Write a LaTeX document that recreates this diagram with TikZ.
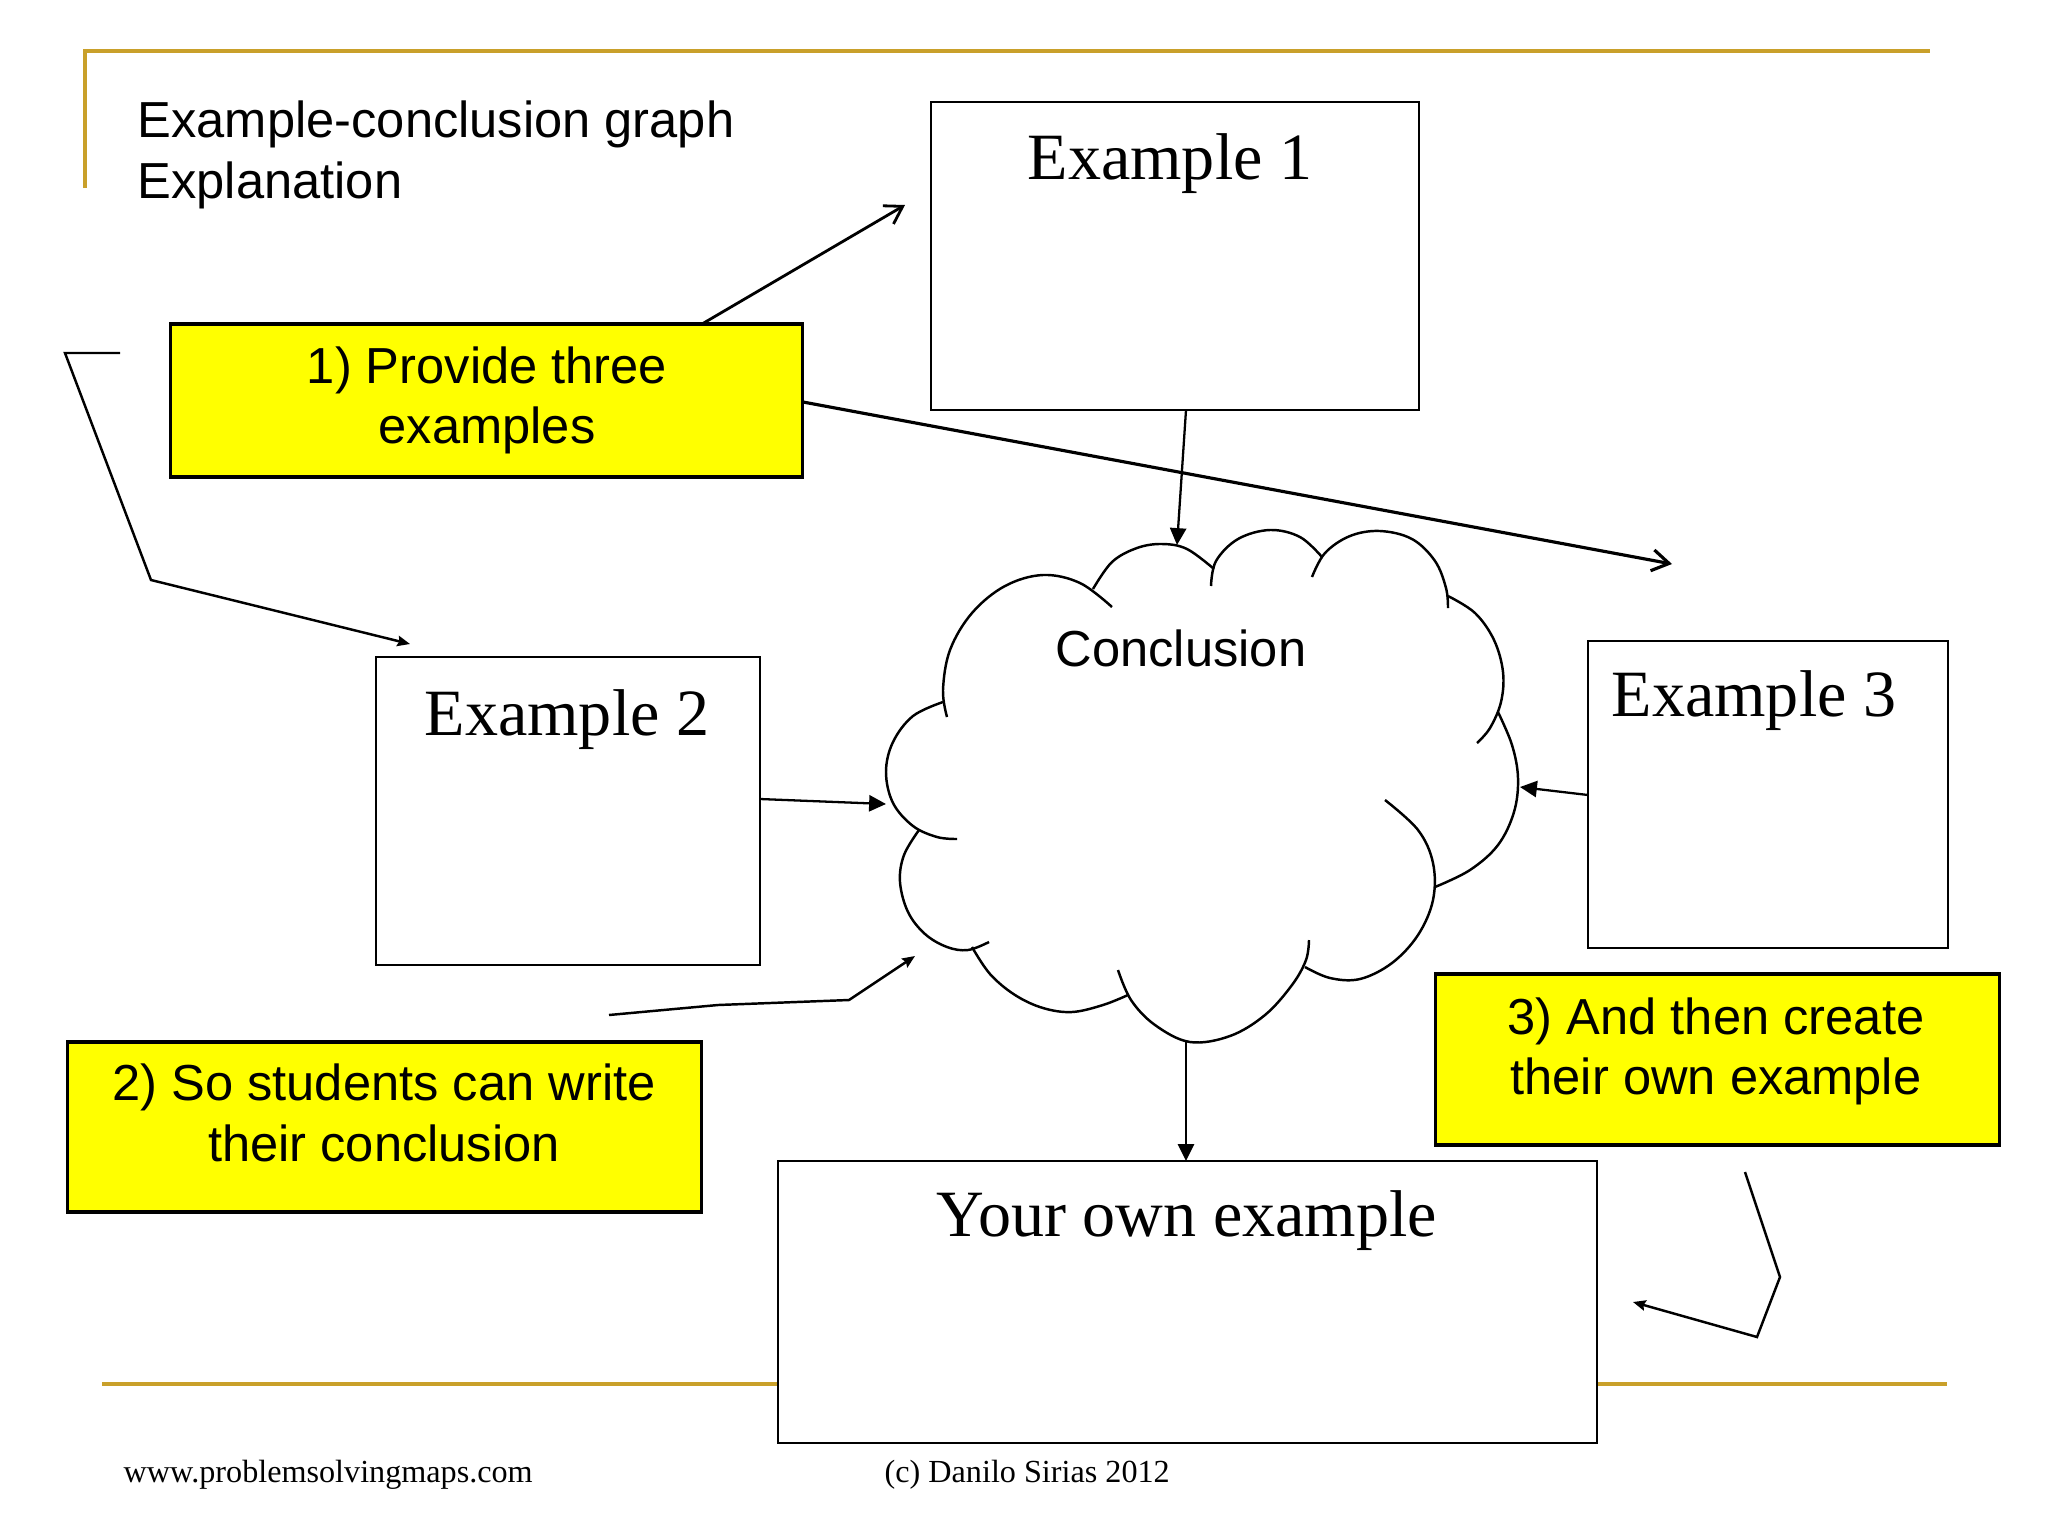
\documentclass[tikz,border=0pt]{standalone}
\usepackage{fontspec}
\setmainfont{Liberation Serif}
\newfontfamily\arialf{Liberation Sans}
\usetikzlibrary{arrows.meta}
\definecolor{goldline}{RGB}{201,160,42}
\definecolor{ylw}{RGB}{255,255,0}
\begin{document}
\begin{tikzpicture}[x=0.01cm, y=-0.01cm,
  plainbox/.style={draw=black, line width=0.7pt, fill=white, inner sep=0pt},
  ybox/.style={draw=black, line width=0.9pt, fill=ylw, inner sep=0pt},
  sans/.style={font=\arialf\fontsize{14.4}{17}\selectfont, inner sep=0pt},
  serifbig/.style={font=\fontsize{18.8}{22}\selectfont, inner sep=0pt},
  foot/.style={font=\fontsize{9.15}{11}\selectfont, inner sep=0pt},
  gold/.style={draw=goldline, line width=1.1pt},
  lobe/.style={smooth, tension=0.6},
  cloudline/.style={line width=0.7pt},
  fillarrow/.style={line width=0.65pt, -{Triangle[length=4.8pt,width=4.6pt]}},
  smallarrow/.style={line width=0.7pt, -{Stealth[length=3.6pt,width=3pt,inset=0.5pt]}},
  openarrow/.style={line width=0.8pt, -{Straight Barb[length=4.8pt,width=6pt]}},
]
\useasboundingbox (0,0) rectangle (2048,1536);
\fill[white] (0,0) rectangle (2048,1536);

% gold frame lines
\draw[gold] (85,188) -- (85,51) -- (1930,51);
\draw[gold] (102,1384) -- (1947,1384);

% title
\node[sans, anchor=base west] (title1) at (137,137) {Example-conclusion graph};
\node[sans, anchor=base west] (title2) at (137,198) {Explanation};

% boxes
\node[plainbox, minimum width=4.88cm, minimum height=3.08cm] (ex1) at (1175,256) {};
\node[serifbig, anchor=base] (ex1t) at (1170,179) {Example 1};
\node[plainbox, minimum width=3.84cm, minimum height=3.08cm] (ex2) at (568,811) {};
\node[serifbig, anchor=base] (ex2t) at (567,735) {Example 2};
\node[plainbox, minimum width=3.60cm, minimum height=3.07cm] (ex3) at (1768,794.5) {};
\node[serifbig, anchor=base west] (ex3t) at (1611,716) {Example 3};
\node[plainbox, minimum width=8.19cm, minimum height=2.82cm] (own) at (1187.5,1302) {};
\node[serifbig, anchor=base] (ownt) at (1187,1236) {Your own example};

% yellow boxes
\node[ybox, minimum width=6.31cm, minimum height=1.53cm] (y1) at (486.5,400.5) {};
\node[sans, anchor=base] (y1a) at (487,383.5) {1) Provide three};
\node[sans, anchor=base] (y1b) at (487,443) {examples};
\node[ybox, minimum width=6.33cm, minimum height=1.70cm] (y2) at (384.5,1127) {};
\node[sans, anchor=base] (y2a) at (384,1100) {2) So students can write};
\node[sans, anchor=base] (y2b) at (384,1161) {their conclusion};
\node[ybox, minimum width=5.63cm, minimum height=1.71cm] (y3) at (1717.5,1059.5) {};
\node[sans, anchor=base] (y3a) at (1716,1034) {3) And then create};
\node[sans, anchor=base] (y3b) at (1716,1094) {their own example};

% cloud
\begin{scope}[cloudline]
\draw plot[lobe] coordinates {(947,717) (943,690) (950,650) (972,613) (1005,586) (1043,575) (1080,583) (1112,607)};
\draw plot[lobe] coordinates {(943,702) (913,716) (893,742) (886,772) (893,803) (913,826) (937,837) (957,839)};
\draw plot[lobe] coordinates {(919,830) (904,855) (900,882) (908,912) (925,934) (947,947) (968,950) (989,942)};
\draw plot[lobe] coordinates {(972,947) (990,974) (1015,995) (1043,1008) (1072,1012) (1103,1005) (1128,995)};
\draw plot[lobe] coordinates {(1118,970) (1131,1000) (1155,1025) (1190,1042) (1230,1036) (1265,1015) (1292,985) (1306,960) (1309,940)};
\draw plot[lobe] coordinates {(1305,967) (1330,978) (1360,979) (1392,963) (1418,935) (1433,900) (1433,863) (1418,830) (1385,800)};
\draw plot[lobe] coordinates {(1435,887) (1470,870) (1498,845) (1514,812) (1518,778) (1512,745) (1498,712)};
\draw plot[lobe] coordinates {(1448,596) (1475,613) (1494,640) (1503,672) (1501,702) (1490,728) (1477,743)};
\draw plot[lobe] coordinates {(1312,577) (1325,553) (1350,536) (1380,531) (1412,539) (1435,561) (1446,588) (1448,608)};
\draw plot[lobe] coordinates {(1211,586) (1216,561) (1238,539) (1270,530) (1300,537) (1322,557)};
\draw plot[lobe] coordinates {(1093,589) (1112,562) (1137,548) (1162,544) (1187,549) (1214,569)};
\end{scope}
\node[sans, anchor=base] (concl) at (1181,666) {Conclusion};

% connector end points
\coordinate (e1out) at (1186,410);
\coordinate (cTop) at (1177,545);
\coordinate (e2out) at (760,799);
\coordinate (cLeft) at (886,804);
\coordinate (e3out) at (1588,795);
\coordinate (cRight) at (1520,787);
\coordinate (cBot) at (1186,1042);
\coordinate (ownIn) at (1186,1161);
\coordinate (y1top) at (702,324);
\coordinate (a1end) at (905,205);
\coordinate (y1right) at (803,402);
\coordinate (a2end) at (1672,564);
\coordinate (pA0) at (120,353);
\coordinate (pA1) at (65,353);
\coordinate (pA2) at (151,580);
\coordinate (pA3) at (410,644);
\coordinate (pB0) at (609,1015);
\coordinate (pB1) at (718,1005);
\coordinate (pB2) at (849,1000);
\coordinate (pB3) at (915,956);
\coordinate (pC0) at (1745,1172);
\coordinate (pC1) at (1780,1277);
\coordinate (pC2) at (1757,1337);
\coordinate (pC3) at (1633,1302);

% connectors
\draw[fillarrow] (e1out) -- (cTop);
\draw[fillarrow] (e2out) -- (cLeft);
\draw[fillarrow] (e3out) -- (cRight);
\draw[fillarrow] (cBot) -- (ownIn);
\draw[openarrow] (y1top) -- (a1end);
\draw[openarrow, line width=0.9pt] (y1right) -- (a2end);
\draw[smallarrow] (pA0) -- (pA1) -- (pA2) -- (pA3);
\draw[smallarrow] (pB0) -- (pB1) -- (pB2) -- (pB3);
\draw[smallarrow] (pC0) -- (pC1) -- (pC2) -- (pC3);

% footer
\node[foot, anchor=base west] (foot1) at (123,1482) {www.problemsolvingmaps.com};
\node[foot, anchor=base west] (foot2) at (884,1482) {(c) Danilo Sirias 2012};
\end{tikzpicture}
\end{document}
